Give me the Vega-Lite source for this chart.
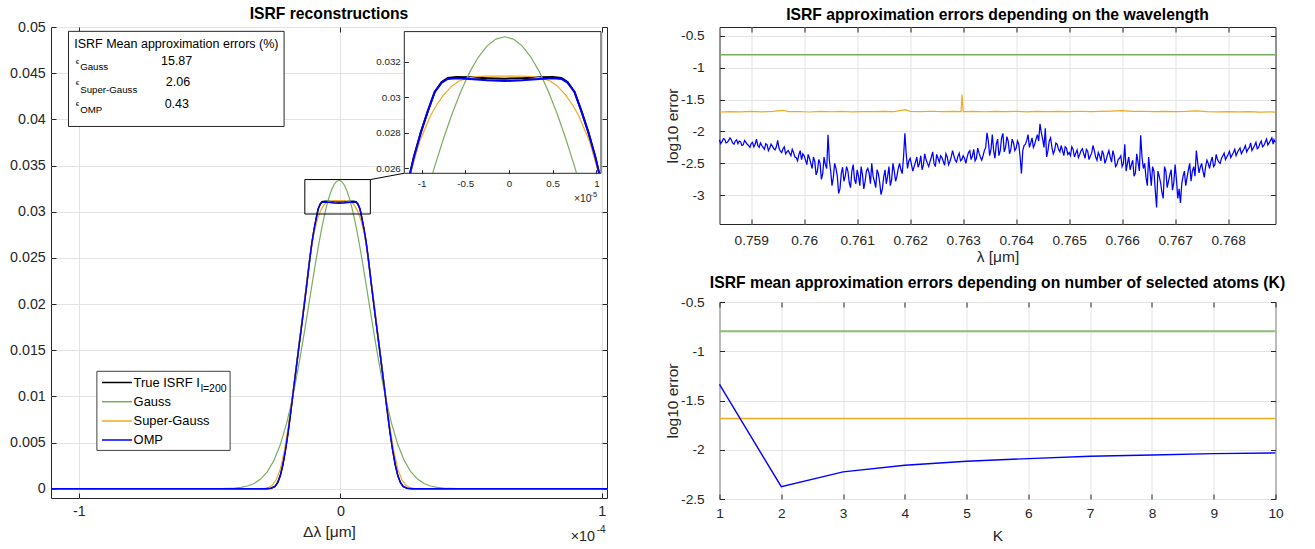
{
"$schema": "https://vega.github.io/schema/vega-lite/v6.json",
"background": "white",
"padding": {"left": 9, "top": 5, "right": 5, "bottom": 5},
"config": {
  "font": "Liberation Sans",
  "view": {"stroke": "#262626", "strokeWidth": 1},
  "axis": {"domain": false, "grid": true, "gridColor": "#e3e3e3", "gridWidth": 1, "tickColor": "#262626", "tickSize": -5, "labelColor": "#262626", "labelFont": "Liberation Sans", "titleColor": "#262626", "titleFont": "Liberation Sans", "titleFontWeight": "normal", "labelFontSize": 14.3, "titleFontSize": 15.5, "labelOverlap": false, "labelFlush": false},
  "title": {"font": "Liberation Sans", "fontSize": 15.7, "fontWeight": "bold", "color": "#000000", "offset": 6, "frame": "group", "anchor": "middle"}
},
"spacing": 53.5,
"hconcat": [
{
  "width": 556, "height": 471,
  "title": {"text": "ISRF reconstructions", "offset": -3},
  "data": {"values": [
    {"s":"True","x":-11.07,"y":0},{"s":"True","x":-2.85,"y":0},{"s":"True","x":-2.65,"y":0.00006},{"s":"True","x":-2.5,"y":0.00025},{"s":"True","x":-2.4,"y":0.00065},{"s":"True","x":-2.3,"y":0.0014},{"s":"True","x":-2.2,"y":0.0026},{"s":"True","x":-2.1,"y":0.0042},{"s":"True","x":-2.0,"y":0.0061},{"s":"True","x":-1.9,"y":0.0083},{"s":"True","x":-1.75,"y":0.0117},{"s":"True","x":-1.6,"y":0.0151},{"s":"True","x":-1.45,"y":0.0184},{"s":"True","x":-1.3,"y":0.0218},{"s":"True","x":-1.17,"y":0.0249},{"s":"True","x":-1.131,"y":0.02573},{"s":"True","x":-1.09,"y":0.0266},{"s":"True","x":-1.01,"y":0.028},{"s":"True","x":-0.93,"y":0.0292},{"s":"True","x":-0.85,"y":0.0303},{"s":"True","x":-0.77,"y":0.03085},{"s":"True","x":-0.7,"y":0.03108},{"s":"True","x":-0.6,"y":0.03113},{"s":"True","x":-0.45,"y":0.03112},{"s":"True","x":-0.25,"y":0.03107},{"s":"True","x":-0.05,"y":0.03104},{"s":"True","x":0.15,"y":0.03107},{"s":"True","x":0.35,"y":0.03112},{"s":"True","x":0.5,"y":0.03113},{"s":"True","x":0.6,"y":0.03108},{"s":"True","x":0.67,"y":0.03085},{"s":"True","x":0.75,"y":0.0303},{"s":"True","x":0.83,"y":0.0292},{"s":"True","x":0.91,"y":0.028},{"s":"True","x":0.99,"y":0.0266},{"s":"True","x":1.031,"y":0.02573},{"s":"True","x":1.07,"y":0.0249},{"s":"True","x":1.2,"y":0.0218},{"s":"True","x":1.35,"y":0.0184},{"s":"True","x":1.5,"y":0.0151},{"s":"True","x":1.65,"y":0.0117},{"s":"True","x":1.8,"y":0.0083},{"s":"True","x":1.9,"y":0.0061},{"s":"True","x":2.0,"y":0.0042},{"s":"True","x":2.1,"y":0.0026},{"s":"True","x":2.2,"y":0.0014},{"s":"True","x":2.3,"y":0.00065},{"s":"True","x":2.4,"y":0.00025},{"s":"True","x":2.55,"y":0.00006},{"s":"True","x":2.75,"y":0},{"s":"True","x":10.2,"y":0},
    {"s":"OMP","x":-11.07,"y":0},{"s":"OMP","x":-2.85,"y":0},{"s":"OMP","x":-2.65,"y":0.00006},{"s":"OMP","x":-2.5,"y":0.00025},{"s":"OMP","x":-2.4,"y":0.00065},{"s":"OMP","x":-2.3,"y":0.0014},{"s":"OMP","x":-2.2,"y":0.0026},{"s":"OMP","x":-2.1,"y":0.0042},{"s":"OMP","x":-2.0,"y":0.0061},{"s":"OMP","x":-1.9,"y":0.0083},{"s":"OMP","x":-1.75,"y":0.0117},{"s":"OMP","x":-1.6,"y":0.0151},{"s":"OMP","x":-1.45,"y":0.0184},{"s":"OMP","x":-1.3,"y":0.0218},{"s":"OMP","x":-1.17,"y":0.0249},{"s":"OMP","x":-1.131,"y":0.02573},{"s":"OMP","x":-1.09,"y":0.0266},{"s":"OMP","x":-1.01,"y":0.028},{"s":"OMP","x":-0.93,"y":0.0292},{"s":"OMP","x":-0.85,"y":0.0303},{"s":"OMP","x":-0.77,"y":0.03082},{"s":"OMP","x":-0.7,"y":0.03103},{"s":"OMP","x":-0.6,"y":0.03106},{"s":"OMP","x":-0.45,"y":0.03102},{"s":"OMP","x":-0.25,"y":0.03095},{"s":"OMP","x":-0.05,"y":0.03091},{"s":"OMP","x":0.15,"y":0.03095},{"s":"OMP","x":0.35,"y":0.03102},{"s":"OMP","x":0.5,"y":0.03106},{"s":"OMP","x":0.6,"y":0.03103},{"s":"OMP","x":0.67,"y":0.03082},{"s":"OMP","x":0.75,"y":0.0303},{"s":"OMP","x":0.83,"y":0.0292},{"s":"OMP","x":0.91,"y":0.028},{"s":"OMP","x":0.99,"y":0.0266},{"s":"OMP","x":1.031,"y":0.02573},{"s":"OMP","x":1.07,"y":0.0249},{"s":"OMP","x":1.2,"y":0.0218},{"s":"OMP","x":1.35,"y":0.0184},{"s":"OMP","x":1.5,"y":0.0151},{"s":"OMP","x":1.65,"y":0.0117},{"s":"OMP","x":1.8,"y":0.0083},{"s":"OMP","x":1.9,"y":0.0061},{"s":"OMP","x":2.0,"y":0.0042},{"s":"OMP","x":2.1,"y":0.0026},{"s":"OMP","x":2.2,"y":0.0014},{"s":"OMP","x":2.3,"y":0.00065},{"s":"OMP","x":2.4,"y":0.00025},{"s":"OMP","x":2.55,"y":0.00006},{"s":"OMP","x":2.75,"y":0},{"s":"OMP","x":10.2,"y":0},
    {"s":"Super-Gauss","x":-11.07,"y":0},{"s":"Super-Gauss","x":-3.15,"y":0},{"s":"Super-Gauss","x":-2.95,"y":0.00002},{"s":"Super-Gauss","x":-2.75,"y":0.00012},{"s":"Super-Gauss","x":-2.6,"y":0.0004},{"s":"Super-Gauss","x":-2.45,"y":0.001},{"s":"Super-Gauss","x":-2.3,"y":0.0021},{"s":"Super-Gauss","x":-2.15,"y":0.004},{"s":"Super-Gauss","x":-2.0,"y":0.0066},{"s":"Super-Gauss","x":-1.85,"y":0.0097},{"s":"Super-Gauss","x":-1.7,"y":0.013},{"s":"Super-Gauss","x":-1.55,"y":0.0164},{"s":"Super-Gauss","x":-1.4,"y":0.0199},{"s":"Super-Gauss","x":-1.25,"y":0.0232},{"s":"Super-Gauss","x":-1.126,"y":0.02573},{"s":"Super-Gauss","x":-1.02,"y":0.02754},{"s":"Super-Gauss","x":-0.9,"y":0.02894},{"s":"Super-Gauss","x":-0.83,"y":0.02955},{"s":"Super-Gauss","x":-0.75,"y":0.03012},{"s":"Super-Gauss","x":-0.65,"y":0.03065},{"s":"Super-Gauss","x":-0.57,"y":0.03091},{"s":"Super-Gauss","x":-0.47,"y":0.03108},{"s":"Super-Gauss","x":-0.37,"y":0.03116},{"s":"Super-Gauss","x":-0.25,"y":0.03119},{"s":"Super-Gauss","x":-0.05,"y":0.03119},{"s":"Super-Gauss","x":0.15,"y":0.03119},{"s":"Super-Gauss","x":0.27,"y":0.03116},{"s":"Super-Gauss","x":0.37,"y":0.03108},{"s":"Super-Gauss","x":0.47,"y":0.03091},{"s":"Super-Gauss","x":0.55,"y":0.03065},{"s":"Super-Gauss","x":0.65,"y":0.03012},{"s":"Super-Gauss","x":0.73,"y":0.02955},{"s":"Super-Gauss","x":0.8,"y":0.02894},{"s":"Super-Gauss","x":0.92,"y":0.02754},{"s":"Super-Gauss","x":1.026,"y":0.02573},{"s":"Super-Gauss","x":1.15,"y":0.0232},{"s":"Super-Gauss","x":1.3,"y":0.0199},{"s":"Super-Gauss","x":1.45,"y":0.0164},{"s":"Super-Gauss","x":1.6,"y":0.013},{"s":"Super-Gauss","x":1.75,"y":0.0097},{"s":"Super-Gauss","x":1.9,"y":0.0066},{"s":"Super-Gauss","x":2.05,"y":0.004},{"s":"Super-Gauss","x":2.2,"y":0.0021},{"s":"Super-Gauss","x":2.35,"y":0.001},{"s":"Super-Gauss","x":2.5,"y":0.0004},{"s":"Super-Gauss","x":2.65,"y":0.00012},{"s":"Super-Gauss","x":2.85,"y":0.00002},{"s":"Super-Gauss","x":3.05,"y":0},{"s":"Super-Gauss","x":10.2,"y":0},
    {"s":"Gauss","x":-11.07,"y":0},{"s":"Gauss","x":-5.05,"y":0},{"s":"Gauss","x":-4.55,"y":0.00001},{"s":"Gauss","x":-4.05,"y":0.00007},{"s":"Gauss","x":-3.8,"y":0.00015},{"s":"Gauss","x":-3.55,"y":0.0003},{"s":"Gauss","x":-3.3,"y":0.00057},{"s":"Gauss","x":-3.05,"y":0.00105},{"s":"Gauss","x":-2.8,"y":0.00182},{"s":"Gauss","x":-2.55,"y":0.00302},{"s":"Gauss","x":-2.3,"y":0.00476},{"s":"Gauss","x":-2.05,"y":0.00717},{"s":"Gauss","x":-1.85,"y":0.0096},{"s":"Gauss","x":-1.65,"y":0.01247},{"s":"Gauss","x":-1.45,"y":0.01571},{"s":"Gauss","x":-1.25,"y":0.01919},{"s":"Gauss","x":-1.05,"y":0.02273},{"s":"Gauss","x":-0.95,"y":0.02446},{"s":"Gauss","x":-0.873,"y":0.02573},{"s":"Gauss","x":-0.85,"y":0.02611},{"s":"Gauss","x":-0.75,"y":0.02766},{"s":"Gauss","x":-0.65,"y":0.02908},{"s":"Gauss","x":-0.55,"y":0.03034},{"s":"Gauss","x":-0.45,"y":0.03141},{"s":"Gauss","x":-0.35,"y":0.03226},{"s":"Gauss","x":-0.25,"y":0.03289},{"s":"Gauss","x":-0.15,"y":0.03327},{"s":"Gauss","x":-0.05,"y":0.0334},{"s":"Gauss","x":0.05,"y":0.03327},{"s":"Gauss","x":0.15,"y":0.03289},{"s":"Gauss","x":0.25,"y":0.03226},{"s":"Gauss","x":0.35,"y":0.03141},{"s":"Gauss","x":0.45,"y":0.03034},{"s":"Gauss","x":0.55,"y":0.02908},{"s":"Gauss","x":0.65,"y":0.02766},{"s":"Gauss","x":0.75,"y":0.02611},{"s":"Gauss","x":0.773,"y":0.02573},{"s":"Gauss","x":0.85,"y":0.02446},{"s":"Gauss","x":0.95,"y":0.02273},{"s":"Gauss","x":1.15,"y":0.01919},{"s":"Gauss","x":1.35,"y":0.01571},{"s":"Gauss","x":1.55,"y":0.01247},{"s":"Gauss","x":1.75,"y":0.0096},{"s":"Gauss","x":1.95,"y":0.00717},{"s":"Gauss","x":2.2,"y":0.00476},{"s":"Gauss","x":2.45,"y":0.00302},{"s":"Gauss","x":2.7,"y":0.00182},{"s":"Gauss","x":2.95,"y":0.00105},{"s":"Gauss","x":3.2,"y":0.00057},{"s":"Gauss","x":3.45,"y":0.0003},{"s":"Gauss","x":3.7,"y":0.00015},{"s":"Gauss","x":3.95,"y":0.00007},{"s":"Gauss","x":4.45,"y":0.00001},{"s":"Gauss","x":4.95,"y":0},{"s":"Gauss","x":10.2,"y":0}
  ]},
  "layer": [
    {"layer": [
      {"layer": [
        {"data": {"values": [{}]}, "mark": {"type": "rect", "fill": "white", "stroke": "#404040", "strokeWidth": 1},
         "encoding": {"x": {"datum": -9.315, "type": "quantitative", "scale": {"domain": [-11.07, 10.2], "nice": false, "zero": false}}, "x2": {"datum": -4.218}, "y": {"datum": 0.004154, "type": "quantitative", "scale": {"domain": [-0.001, 0.05], "nice": false, "zero": false}}, "y2": {"datum": 0.01272}}},
        {"transform": [{"filter": "datum.s === 'True'"}],
         "mark": {"type": "line", "strokeWidth": 1.5},
         "encoding": {
           "x": {"field": "x", "type": "quantitative",
                 "axis": {"values": [-10, 0, 10], "labelExpr": "toString(datum.value/10)", "title": "Δλ [μm]", "labelPadding": 11.8, "titlePadding": 5}},
           "y": {"field": "y", "type": "quantitative",
                 "axis": {"values": [0, 0.005, 0.01, 0.015, 0.02, 0.025, 0.03, 0.035, 0.04, 0.045, 0.05], "labelExpr": "toString(datum.value)", "title": null, "labelPadding": 10.7}},
           "color": {"field": "s", "type": "nominal",
                     "scale": {"domain": ["True", "Gauss", "Super-Gauss", "OMP"], "range": ["#000000", "#7aae5f", "#f0aa1e", "#0000ff"]},
                     "legend": {"orient": "none", "legendX": 46, "legendY": 344, "title": null, "symbolType": "stroke", "symbolSize": 900, "symbolStrokeWidth": 1.5, "labelFontSize": 12.9, "labelColor": "#000000", "labelFont": "Liberation Sans", "padding": 4, "strokeColor": null, "fillColor": null, "clipHeight": 15, "rowPadding": 4.2, "labelOffset": 0.6, "labelExpr": "datum.label === 'True' ? 'True ISRF I' : datum.label"}}
         }},
        {"transform": [{"filter": "datum.s === 'Gauss'"}], "mark": {"type": "line", "strokeWidth": 1.2},
         "encoding": {"x": {"field": "x", "type": "quantitative"}, "y": {"field": "y", "type": "quantitative"}, "color": {"field": "s", "type": "nominal"}}},
        {"transform": [{"filter": "datum.s === 'Super-Gauss'"}], "mark": {"type": "line", "strokeWidth": 1.2},
         "encoding": {"x": {"field": "x", "type": "quantitative"}, "y": {"field": "y", "type": "quantitative"}, "color": {"field": "s", "type": "nominal"}}},
        {"transform": [{"filter": "datum.s === 'OMP'"}], "mark": {"type": "line", "strokeWidth": 1.5},
         "encoding": {"x": {"field": "x", "type": "quantitative"}, "y": {"field": "y", "type": "quantitative"}, "color": {"field": "s", "type": "nominal"}}},
        {"data": {"values": [{}]}, "mark": {"type": "rect", "fillOpacity": 0, "stroke": "#000000", "strokeWidth": 1},
         "encoding": {"x": {"datum": -1.36, "type": "quantitative"}, "x2": {"datum": 1.147}, "y": {"datum": 0.02975, "type": "quantitative"}, "y2": {"datum": 0.03348}}},
        {"data": {"values": [{}]}, "mark": {"type": "rule", "color": "#000000", "strokeWidth": 1},
         "encoding": {"x": {"datum": 1.147, "type": "quantitative"}, "x2": {"datum": 2.436}, "y": {"datum": 0.03348, "type": "quantitative"}, "y2": {"datum": 0.03416}}},
        {"data": {"values": [{}]}, "mark": {"type": "rect", "fill": "white", "stroke": "#262626", "strokeWidth": 1},
         "encoding": {"x": {"datum": -10.4, "type": "quantitative"}, "x2": {"datum": -2.153}, "y": {"datum": 0.03923, "type": "quantitative"}, "y2": {"datum": 0.04953}}},
        {"data": {"values": [{"t": "ISRF Mean approximation errors (%)"}]}, "mark": {"type": "text", "align": "left", "baseline": "middle", "fontSize": 12.5, "color": "#000000"},
         "encoding": {"text": {"field": "t"}, "x": {"datum": -10.18, "type": "quantitative"}, "y": {"datum": 0.04816, "type": "quantitative"}}},
        {"data": {"values": [{"t": "ϵ"}]}, "mark": {"type": "text", "align": "left", "baseline": "middle", "fontSize": 8, "color": "#000000"},
         "encoding": {"text": {"field": "t"}, "x": {"datum": -10.12, "type": "quantitative"}, "y": {"datum": 0.04617, "type": "quantitative"}}},
        {"data": {"values": [{"t": "ϵ"}]}, "mark": {"type": "text", "align": "left", "baseline": "middle", "fontSize": 8, "color": "#000000"},
         "encoding": {"text": {"field": "t"}, "x": {"datum": -10.12, "type": "quantitative"}, "y": {"datum": 0.04389, "type": "quantitative"}}},
        {"data": {"values": [{"t": "ϵ"}]}, "mark": {"type": "text", "align": "left", "baseline": "middle", "fontSize": 8, "color": "#000000"},
         "encoding": {"text": {"field": "t"}, "x": {"datum": -10.12, "type": "quantitative"}, "y": {"datum": 0.04165, "type": "quantitative"}}},
        {"data": {"values": [{"t": "Gauss"}]}, "mark": {"type": "text", "align": "left", "baseline": "middle", "fontSize": 9.7, "color": "#000000"},
         "encoding": {"text": {"field": "t"}, "x": {"datum": -9.954, "type": "quantitative"}, "y": {"datum": 0.04563, "type": "quantitative"}}},
        {"data": {"values": [{"t": "Super-Gauss"}]}, "mark": {"type": "text", "align": "left", "baseline": "middle", "fontSize": 9.7, "color": "#000000"},
         "encoding": {"text": {"field": "t"}, "x": {"datum": -9.954, "type": "quantitative"}, "y": {"datum": 0.0432, "type": "quantitative"}}},
        {"data": {"values": [{"t": "OMP"}]}, "mark": {"type": "text", "align": "left", "baseline": "middle", "fontSize": 9.7, "color": "#000000"},
         "encoding": {"text": {"field": "t"}, "x": {"datum": -9.954, "type": "quantitative"}, "y": {"datum": 0.041, "type": "quantitative"}}},
        {"data": {"values": [{"t": "15.87"}]}, "mark": {"type": "text", "align": "center", "baseline": "middle", "fontSize": 12.5, "color": "#000000"},
         "encoding": {"text": {"field": "t"}, "x": {"datum": -6.264, "type": "quantitative"}, "y": {"datum": 0.04634, "type": "quantitative"}}},
        {"data": {"values": [{"t": "2.06"}]}, "mark": {"type": "text", "align": "center", "baseline": "middle", "fontSize": 12.5, "color": "#000000"},
         "encoding": {"text": {"field": "t"}, "x": {"datum": -6.214, "type": "quantitative"}, "y": {"datum": 0.04403, "type": "quantitative"}}},
        {"data": {"values": [{"t": "0.43"}]}, "mark": {"type": "text", "align": "center", "baseline": "middle", "fontSize": 12.5, "color": "#000000"},
         "encoding": {"text": {"field": "t"}, "x": {"datum": -6.256, "type": "quantitative"}, "y": {"datum": 0.04165, "type": "quantitative"}}},
        {"data": {"values": [{"t": "l=200"}]}, "mark": {"type": "text", "align": "left", "baseline": "middle", "fontSize": 10.5, "color": "#000000"},
         "encoding": {"text": {"field": "t"}, "x": {"datum": -5.346, "type": "quantitative"}, "y": {"datum": 0.01085, "type": "quantitative"}}},
        {"data": {"values": [{"t": "×10"}]}, "mark": {"type": "text", "align": "left", "baseline": "middle", "fontSize": 14.3, "color": "#262626"},
         "encoding": {"text": {"field": "t"}, "x": {"datum": 8.811, "type": "quantitative"}, "y": {"datum": -0.00517, "type": "quantitative"}}},
        {"data": {"values": [{"t": "-4"}]}, "mark": {"type": "text", "align": "left", "baseline": "middle", "fontSize": 10, "color": "#262626"},
         "encoding": {"text": {"field": "t"}, "x": {"datum": 9.805, "type": "quantitative"}, "y": {"datum": -0.00445, "type": "quantitative"}}},
        {"data": {"values": [{"t": "×10"}]}, "mark": {"type": "text", "align": "left", "baseline": "middle", "fontSize": 10.4, "color": "#262626"},
         "encoding": {"text": {"field": "t"}, "x": {"datum": 8.937, "type": "quantitative"}, "y": {"datum": 0.03142, "type": "quantitative"}}},
        {"data": {"values": [{"t": "-5"}]}, "mark": {"type": "text", "align": "left", "baseline": "middle", "fontSize": 7.5, "color": "#262626"},
         "encoding": {"text": {"field": "t"}, "x": {"datum": 9.572, "type": "quantitative"}, "y": {"datum": 0.03181, "type": "quantitative"}}}
      ]},
      {"transform": [{"filter": "datum.s === 'Gauss'"}], "mark": {"type": "line", "opacity": 0},
       "encoding": {
         "x": {"field": "x", "type": "quantitative", "axis": {"orient": "top", "labels": false, "grid": false, "title": null, "values": [-10, 0, 10]}},
         "y": {"field": "y", "type": "quantitative", "axis": {"orient": "right", "labels": false, "grid": false, "title": null, "values": [0, 0.005, 0.01, 0.015, 0.02, 0.025, 0.03, 0.035, 0.04, 0.045, 0.05]}}
       }}
    ],
    "resolve": {"axis": {"x": "independent", "y": "independent"}}},
    {"layer": [
      {"data": {"values": [{}]}, "mark": {"type": "rect", "fill": "white", "stroke": "#262626", "strokeWidth": 1},
       "encoding": {
         "x": {"datum": -1.198, "type": "quantitative", "scale": {"domain": [-1.198, 1.053], "range": [353.3, 550], "nice": false, "zero": false},
               "axis": {"orient": "bottom", "offset": -324.3, "values": [-1, -0.5, 0, 0.5, 1], "labelExpr": "toString(datum.value)", "grid": false, "title": null, "tickSize": -4, "labelFontSize": 9.8, "labelPadding": 9, "zindex": 1}},
         "x2": {"datum": 1.053},
         "y": {"datum": 0.02572, "type": "quantitative", "scale": {"domain": [0.02572, 0.03369], "range": [146.3, 4.6], "nice": false, "zero": false},
               "axis": {"orient": "left", "offset": -353.3, "values": [0.026, 0.028, 0.03, 0.032], "labelExpr": "toString(datum.value)", "grid": false, "title": null, "tickSize": -4, "labelFontSize": 9.8, "labelPadding": 8, "zindex": 1}},
         "y2": {"datum": 0.03369}
       }},
      {"transform": [{"filter": "datum.s === 'True' && datum.x >= -1.2 && datum.x <= 1.06 && datum.y >= 0.02572"}], "mark": {"type": "line", "strokeWidth": 2},
       "encoding": {"x": {"field": "x", "type": "quantitative"}, "y": {"field": "y", "type": "quantitative"}, "color": {"field": "s", "type": "nominal"}}},
      {"transform": [{"filter": "datum.s === 'Gauss' && datum.x >= -1.2 && datum.x <= 1.06 && datum.y >= 0.02572"}], "mark": {"type": "line", "strokeWidth": 1.2},
       "encoding": {"x": {"field": "x", "type": "quantitative"}, "y": {"field": "y", "type": "quantitative"}, "color": {"field": "s", "type": "nominal"}}},
      {"transform": [{"filter": "datum.s === 'Super-Gauss' && datum.x >= -1.2 && datum.x <= 1.06 && datum.y >= 0.02572"}], "mark": {"type": "line", "strokeWidth": 1.2},
       "encoding": {"x": {"field": "x", "type": "quantitative"}, "y": {"field": "y", "type": "quantitative"}, "color": {"field": "s", "type": "nominal"}}},
      {"transform": [{"filter": "datum.s === 'OMP' && datum.x >= -1.2 && datum.x <= 1.06 && datum.y >= 0.02572"}], "mark": {"type": "line", "strokeWidth": 2},
       "encoding": {"x": {"field": "x", "type": "quantitative"}, "y": {"field": "y", "type": "quantitative"}, "color": {"field": "s", "type": "nominal"}}}
    ]}
  ],
  "resolve": {"scale": {"x": "independent", "y": "independent"}, "axis": {"x": "independent", "y": "independent"}}
},
{
  "spacing": 8,
  "vconcat": [
  {
    "width": 556, "height": 197,
    "title": {"text": "ISRF approximation errors depending on the wavelength", "offset": 3.3},
    "data": {"values": [
      {"s":"Gauss","lam":0.7584,"e":-0.797},{"s":"Gauss","lam":0.76,"e":-0.799},{"s":"Gauss","lam":0.762,"e":-0.798},{"s":"Gauss","lam":0.764,"e":-0.799},{"s":"Gauss","lam":0.766,"e":-0.797},{"s":"Gauss","lam":0.768,"e":-0.799},{"s":"Gauss","lam":0.76889,"e":-0.798},
      {"s":"Super-Gauss","lam":0.7584,"e":-1.695},{"s":"Super-Gauss","lam":0.7586,"e":-1.688},{"s":"Super-Gauss","lam":0.7588,"e":-1.693},{"s":"Super-Gauss","lam":0.759,"e":-1.686},{"s":"Super-Gauss","lam":0.7592,"e":-1.694},{"s":"Super-Gauss","lam":0.7594,"e":-1.684},{"s":"Super-Gauss","lam":0.7596,"e":-1.668},{"s":"Super-Gauss","lam":0.7597,"e":-1.69},{"s":"Super-Gauss","lam":0.7599,"e":-1.687},{"s":"Super-Gauss","lam":0.7601,"e":-1.695},{"s":"Super-Gauss","lam":0.7603,"e":-1.684},{"s":"Super-Gauss","lam":0.7605,"e":-1.691},{"s":"Super-Gauss","lam":0.7607,"e":-1.686},{"s":"Super-Gauss","lam":0.7609,"e":-1.693},{"s":"Super-Gauss","lam":0.7611,"e":-1.688},{"s":"Super-Gauss","lam":0.7613,"e":-1.69},{"s":"Super-Gauss","lam":0.7615,"e":-1.685},{"s":"Super-Gauss","lam":0.7617,"e":-1.689},{"s":"Super-Gauss","lam":0.7619,"e":-1.658},{"s":"Super-Gauss","lam":0.762,"e":-1.686},{"s":"Super-Gauss","lam":0.7622,"e":-1.69},{"s":"Super-Gauss","lam":0.7624,"e":-1.683},{"s":"Super-Gauss","lam":0.7626,"e":-1.69},{"s":"Super-Gauss","lam":0.7628,"e":-1.686},{"s":"Super-Gauss","lam":0.76296,"e":-1.689},{"s":"Super-Gauss","lam":0.76298,"e":-1.42},{"s":"Super-Gauss","lam":0.763,"e":-1.69},{"s":"Super-Gauss","lam":0.7632,"e":-1.686},{"s":"Super-Gauss","lam":0.7634,"e":-1.691},{"s":"Super-Gauss","lam":0.7636,"e":-1.684},{"s":"Super-Gauss","lam":0.7638,"e":-1.69},{"s":"Super-Gauss","lam":0.764,"e":-1.686},{"s":"Super-Gauss","lam":0.7642,"e":-1.692},{"s":"Super-Gauss","lam":0.7644,"e":-1.685},{"s":"Super-Gauss","lam":0.7646,"e":-1.69},{"s":"Super-Gauss","lam":0.7648,"e":-1.684},{"s":"Super-Gauss","lam":0.765,"e":-1.689},{"s":"Super-Gauss","lam":0.7652,"e":-1.683},{"s":"Super-Gauss","lam":0.7654,"e":-1.688},{"s":"Super-Gauss","lam":0.7656,"e":-1.684},{"s":"Super-Gauss","lam":0.7658,"e":-1.68},{"s":"Super-Gauss","lam":0.766,"e":-1.674},{"s":"Super-Gauss","lam":0.7662,"e":-1.686},{"s":"Super-Gauss","lam":0.7664,"e":-1.683},{"s":"Super-Gauss","lam":0.7666,"e":-1.688},{"s":"Super-Gauss","lam":0.7668,"e":-1.684},{"s":"Super-Gauss","lam":0.767,"e":-1.689},{"s":"Super-Gauss","lam":0.7672,"e":-1.685},{"s":"Super-Gauss","lam":0.7674,"e":-1.676},{"s":"Super-Gauss","lam":0.7676,"e":-1.688},{"s":"Super-Gauss","lam":0.7678,"e":-1.692},{"s":"Super-Gauss","lam":0.768,"e":-1.689},{"s":"Super-Gauss","lam":0.7682,"e":-1.694},{"s":"Super-Gauss","lam":0.7684,"e":-1.69},{"s":"Super-Gauss","lam":0.7686,"e":-1.696},{"s":"Super-Gauss","lam":0.7688,"e":-1.693},{"s":"Super-Gauss","lam":0.76889,"e":-1.698},
      {"s":"OMP","lam":0.7584,"e":-2.13},{"s":"OMP","lam":0.75845,"e":-2.16},{"s":"OMP","lam":0.7585,"e":-2.12},{"s":"OMP","lam":0.75855,"e":-2.17},{"s":"OMP","lam":0.7586,"e":-2.1},{"s":"OMP","lam":0.75865,"e":-2.18},{"s":"OMP","lam":0.7587,"e":-2.15},{"s":"OMP","lam":0.75875,"e":-2.19},{"s":"OMP","lam":0.7588,"e":-2.16},{"s":"OMP","lam":0.75885,"e":-2.21},{"s":"OMP","lam":0.7589,"e":-2.17},{"s":"OMP","lam":0.75895,"e":-2.22},{"s":"OMP","lam":0.759,"e":-2.19},{"s":"OMP","lam":0.75905,"e":-2.24},{"s":"OMP","lam":0.7591,"e":-2.12},{"s":"OMP","lam":0.75915,"e":-2.25},{"s":"OMP","lam":0.7592,"e":-2.22},{"s":"OMP","lam":0.75925,"e":-2.28},{"s":"OMP","lam":0.7593,"e":-2.21},{"s":"OMP","lam":0.75935,"e":-2.26},{"s":"OMP","lam":0.7594,"e":-2.23},{"s":"OMP","lam":0.75945,"e":-2.29},{"s":"OMP","lam":0.7595,"e":-2.14},{"s":"OMP","lam":0.75955,"e":-2.31},{"s":"OMP","lam":0.7596,"e":-2.27},{"s":"OMP","lam":0.75965,"e":-2.35},{"s":"OMP","lam":0.7597,"e":-2.3},{"s":"OMP","lam":0.75975,"e":-2.38},{"s":"OMP","lam":0.7598,"e":-2.33},{"s":"OMP","lam":0.75985,"e":-2.41},{"s":"OMP","lam":0.7599,"e":-2.36},{"s":"OMP","lam":0.75995,"e":-2.44},{"s":"OMP","lam":0.76,"e":-2.38},{"s":"OMP","lam":0.76005,"e":-2.52},{"s":"OMP","lam":0.7601,"e":-2.42},{"s":"OMP","lam":0.76015,"e":-2.58},{"s":"OMP","lam":0.7602,"e":-2.47},{"s":"OMP","lam":0.76025,"e":-2.62},{"s":"OMP","lam":0.7603,"e":-2.5},{"s":"OMP","lam":0.76035,"e":-2.66},{"s":"OMP","lam":0.7604,"e":-2.52},{"s":"OMP","lam":0.76045,"e":-2.05},{"s":"OMP","lam":0.7605,"e":-2.62},{"s":"OMP","lam":0.76055,"e":-2.72},{"s":"OMP","lam":0.7606,"e":-2.58},{"s":"OMP","lam":0.76065,"e":-2.97},{"s":"OMP","lam":0.7607,"e":-2.66},{"s":"OMP","lam":0.76075,"e":-2.78},{"s":"OMP","lam":0.7608,"e":-2.55},{"s":"OMP","lam":0.76085,"e":-2.8},{"s":"OMP","lam":0.7609,"e":-2.62},{"s":"OMP","lam":0.76095,"e":-2.75},{"s":"OMP","lam":0.761,"e":-2.6},{"s":"OMP","lam":0.76105,"e":-2.85},{"s":"OMP","lam":0.7611,"e":-2.68},{"s":"OMP","lam":0.76115,"e":-2.78},{"s":"OMP","lam":0.7612,"e":-2.58},{"s":"OMP","lam":0.76125,"e":-2.82},{"s":"OMP","lam":0.7613,"e":-2.7},{"s":"OMP","lam":0.76135,"e":-2.88},{"s":"OMP","lam":0.7614,"e":-2.66},{"s":"OMP","lam":0.76145,"e":-2.99},{"s":"OMP","lam":0.7615,"e":-2.72},{"s":"OMP","lam":0.76155,"e":-2.82},{"s":"OMP","lam":0.7616,"e":-2.55},{"s":"OMP","lam":0.76165,"e":-2.76},{"s":"OMP","lam":0.7617,"e":-2.62},{"s":"OMP","lam":0.76175,"e":-2.7},{"s":"OMP","lam":0.7618,"e":-2.5},{"s":"OMP","lam":0.76185,"e":-2.66},{"s":"OMP","lam":0.7619,"e":-2.03},{"s":"OMP","lam":0.76195,"e":-2.58},{"s":"OMP","lam":0.762,"e":-2.42},{"s":"OMP","lam":0.76205,"e":-2.62},{"s":"OMP","lam":0.7621,"e":-2.48},{"s":"OMP","lam":0.76215,"e":-2.56},{"s":"OMP","lam":0.7622,"e":-2.38},{"s":"OMP","lam":0.76225,"e":-2.52},{"s":"OMP","lam":0.7623,"e":-2.44},{"s":"OMP","lam":0.76235,"e":-2.55},{"s":"OMP","lam":0.7624,"e":-2.4},{"s":"OMP","lam":0.76245,"e":-2.5},{"s":"OMP","lam":0.7625,"e":-2.36},{"s":"OMP","lam":0.76255,"e":-2.48},{"s":"OMP","lam":0.7626,"e":-2.41},{"s":"OMP","lam":0.76265,"e":-2.53},{"s":"OMP","lam":0.7627,"e":-2.4},{"s":"OMP","lam":0.76275,"e":-2.47},{"s":"OMP","lam":0.7628,"e":-2.3},{"s":"OMP","lam":0.76285,"e":-2.45},{"s":"OMP","lam":0.7629,"e":-2.39},{"s":"OMP","lam":0.76295,"e":-2.46},{"s":"OMP","lam":0.763,"e":-2.38},{"s":"OMP","lam":0.76305,"e":-2.5},{"s":"OMP","lam":0.7631,"e":-2.33},{"s":"OMP","lam":0.76315,"e":-2.44},{"s":"OMP","lam":0.7632,"e":-2.28},{"s":"OMP","lam":0.76325,"e":-2.42},{"s":"OMP","lam":0.7633,"e":-2.34},{"s":"OMP","lam":0.76335,"e":-2.45},{"s":"OMP","lam":0.7634,"e":-2.3},{"s":"OMP","lam":0.76345,"e":-2.02},{"s":"OMP","lam":0.7635,"e":-2.38},{"s":"OMP","lam":0.76355,"e":-2.05},{"s":"OMP","lam":0.7636,"e":-2.42},{"s":"OMP","lam":0.76365,"e":-2.12},{"s":"OMP","lam":0.7637,"e":-2.3},{"s":"OMP","lam":0.76375,"e":-2.03},{"s":"OMP","lam":0.7638,"e":-2.25},{"s":"OMP","lam":0.76385,"e":-2.15},{"s":"OMP","lam":0.7639,"e":-2.28},{"s":"OMP","lam":0.76395,"e":-2.18},{"s":"OMP","lam":0.764,"e":-2.26},{"s":"OMP","lam":0.76405,"e":-2.2},{"s":"OMP","lam":0.7641,"e":-2.66},{"s":"OMP","lam":0.76415,"e":-2.22},{"s":"OMP","lam":0.7642,"e":-2.14},{"s":"OMP","lam":0.76425,"e":-2.25},{"s":"OMP","lam":0.7643,"e":-2.1},{"s":"OMP","lam":0.76435,"e":-2.2},{"s":"OMP","lam":0.7644,"e":-2.05},{"s":"OMP","lam":0.76445,"e":-1.88},{"s":"OMP","lam":0.7645,"e":-2.12},{"s":"OMP","lam":0.76455,"e":-1.95},{"s":"OMP","lam":0.7646,"e":-2.3},{"s":"OMP","lam":0.76465,"e":-2.1},{"s":"OMP","lam":0.7647,"e":-2.35},{"s":"OMP","lam":0.76475,"e":-2.18},{"s":"OMP","lam":0.7648,"e":-2.28},{"s":"OMP","lam":0.76485,"e":-2.22},{"s":"OMP","lam":0.7649,"e":-2.38},{"s":"OMP","lam":0.76495,"e":-2.26},{"s":"OMP","lam":0.765,"e":-2.33},{"s":"OMP","lam":0.76505,"e":-2.24},{"s":"OMP","lam":0.7651,"e":-2.4},{"s":"OMP","lam":0.76515,"e":-2.29},{"s":"OMP","lam":0.7652,"e":-2.36},{"s":"OMP","lam":0.76525,"e":-2.27},{"s":"OMP","lam":0.7653,"e":-2.42},{"s":"OMP","lam":0.76535,"e":-2.31},{"s":"OMP","lam":0.7654,"e":-2.38},{"s":"OMP","lam":0.76545,"e":-2.22},{"s":"OMP","lam":0.7655,"e":-2.4},{"s":"OMP","lam":0.76555,"e":-2.33},{"s":"OMP","lam":0.7656,"e":-2.46},{"s":"OMP","lam":0.76565,"e":-2.36},{"s":"OMP","lam":0.7657,"e":-2.44},{"s":"OMP","lam":0.76575,"e":-2.3},{"s":"OMP","lam":0.7658,"e":-2.48},{"s":"OMP","lam":0.76585,"e":-2.38},{"s":"OMP","lam":0.7659,"e":-2.52},{"s":"OMP","lam":0.76595,"e":-2.42},{"s":"OMP","lam":0.766,"e":-2.55},{"s":"OMP","lam":0.76605,"e":-2.2},{"s":"OMP","lam":0.7661,"e":-2.5},{"s":"OMP","lam":0.76615,"e":-2.6},{"s":"OMP","lam":0.7662,"e":-2.45},{"s":"OMP","lam":0.76625,"e":-2.65},{"s":"OMP","lam":0.7663,"e":-2.48},{"s":"OMP","lam":0.76635,"e":-2.06},{"s":"OMP","lam":0.7664,"e":-2.58},{"s":"OMP","lam":0.76645,"e":-2.72},{"s":"OMP","lam":0.7665,"e":-2.4},{"s":"OMP","lam":0.76655,"e":-2.85},{"s":"OMP","lam":0.7666,"e":-2.62},{"s":"OMP","lam":0.76665,"e":-3.19},{"s":"OMP","lam":0.7667,"e":-2.7},{"s":"OMP","lam":0.76675,"e":-2.95},{"s":"OMP","lam":0.7668,"e":-2.55},{"s":"OMP","lam":0.76685,"e":-2.88},{"s":"OMP","lam":0.7669,"e":-2.68},{"s":"OMP","lam":0.76695,"e":-2.92},{"s":"OMP","lam":0.767,"e":-2.52},{"s":"OMP","lam":0.76705,"e":-3.05},{"s":"OMP","lam":0.7671,"e":-3.12},{"s":"OMP","lam":0.76715,"e":-2.7},{"s":"OMP","lam":0.7672,"e":-2.85},{"s":"OMP","lam":0.76725,"e":-2.6},{"s":"OMP","lam":0.7673,"e":-2.78},{"s":"OMP","lam":0.76735,"e":-2.55},{"s":"OMP","lam":0.7674,"e":-2.3},{"s":"OMP","lam":0.76745,"e":-2.65},{"s":"OMP","lam":0.7675,"e":-2.5},{"s":"OMP","lam":0.76755,"e":-2.72},{"s":"OMP","lam":0.7676,"e":-2.45},{"s":"OMP","lam":0.76765,"e":-2.58},{"s":"OMP","lam":0.7677,"e":-2.4},{"s":"OMP","lam":0.76775,"e":-2.52},{"s":"OMP","lam":0.7678,"e":-2.44},{"s":"OMP","lam":0.76785,"e":-2.5},{"s":"OMP","lam":0.7679,"e":-2.38},{"s":"OMP","lam":0.76795,"e":-2.44},{"s":"OMP","lam":0.768,"e":-2.36},{"s":"OMP","lam":0.76805,"e":-2.41},{"s":"OMP","lam":0.7681,"e":-2.33},{"s":"OMP","lam":0.76815,"e":-2.38},{"s":"OMP","lam":0.7682,"e":-2.29},{"s":"OMP","lam":0.76825,"e":-2.35},{"s":"OMP","lam":0.7683,"e":-2.27},{"s":"OMP","lam":0.76835,"e":-2.32},{"s":"OMP","lam":0.7684,"e":-2.25},{"s":"OMP","lam":0.76845,"e":-2.3},{"s":"OMP","lam":0.7685,"e":-2.22},{"s":"OMP","lam":0.76855,"e":-2.27},{"s":"OMP","lam":0.7686,"e":-2.19},{"s":"OMP","lam":0.76865,"e":-2.24},{"s":"OMP","lam":0.7687,"e":-2.17},{"s":"OMP","lam":0.76875,"e":-2.21},{"s":"OMP","lam":0.7688,"e":-2.14},{"s":"OMP","lam":0.76885,"e":-2.2},{"s":"OMP","lam":0.76889,"e":-2.17},
      {"s":"OMP","lam":0.758425,"e":-2.19},{"s":"OMP","lam":0.758475,"e":-2.11},{"s":"OMP","lam":0.758525,"e":-2.18},{"s":"OMP","lam":0.758575,"e":-2.14},{"s":"OMP","lam":0.758625,"e":-2.13},{"s":"OMP","lam":0.758675,"e":-2.2},{"s":"OMP","lam":0.758725,"e":-2.13},{"s":"OMP","lam":0.758775,"e":-2.15},{"s":"OMP","lam":0.758825,"e":-2.22},{"s":"OMP","lam":0.758875,"e":-2.14},{"s":"OMP","lam":0.758925,"e":-2.2},{"s":"OMP","lam":0.758975,"e":-2.25},{"s":"OMP","lam":0.759025,"e":-2.17},{"s":"OMP","lam":0.759075,"e":-2.2},{"s":"OMP","lam":0.759125,"e":-2.22},{"s":"OMP","lam":0.759175,"e":-2.18},{"s":"OMP","lam":0.759225,"e":-2.25},{"s":"OMP","lam":0.759275,"e":-2.19},{"s":"OMP","lam":0.759325,"e":-2.3},{"s":"OMP","lam":0.759375,"e":-2.2},{"s":"OMP","lam":0.759425,"e":-2.27},{"s":"OMP","lam":0.759475,"e":-2.24},{"s":"OMP","lam":0.759525,"e":-2.26},{"s":"OMP","lam":0.759575,"e":-2.33},{"s":"OMP","lam":0.759625,"e":-2.24},{"s":"OMP","lam":0.759675,"e":-2.32},{"s":"OMP","lam":0.759725,"e":-2.34},{"s":"OMP","lam":0.759775,"e":-2.28},{"s":"OMP","lam":0.759825,"e":-2.4},{"s":"OMP","lam":0.759875,"e":-2.46},{"s":"OMP","lam":0.759925,"e":-2.3},{"s":"OMP","lam":0.759975,"e":-2.35},{"s":"OMP","lam":0.760025,"e":-2.45},{"s":"OMP","lam":0.760075,"e":-2.36},{"s":"OMP","lam":0.760125,"e":-2.5},{"s":"OMP","lam":0.760175,"e":-2.4},{"s":"OMP","lam":0.760225,"e":-2.68},{"s":"OMP","lam":0.760275,"e":-2.44},{"s":"OMP","lam":0.760325,"e":-2.75},{"s":"OMP","lam":0.760375,"e":-2.4},{"s":"OMP","lam":0.760425,"e":-2.58},{"s":"OMP","lam":0.760475,"e":-2.45},{"s":"OMP","lam":0.760525,"e":-2.85},{"s":"OMP","lam":0.760575,"e":-2.5},{"s":"OMP","lam":0.760625,"e":-2.7},{"s":"OMP","lam":0.760675,"e":-2.9},{"s":"OMP","lam":0.760725,"e":-2.56},{"s":"OMP","lam":0.760775,"e":-2.7},{"s":"OMP","lam":0.760825,"e":-2.62},{"s":"OMP","lam":0.760875,"e":-2.88},{"s":"OMP","lam":0.760925,"e":-2.52},{"s":"OMP","lam":0.760975,"e":-2.82},{"s":"OMP","lam":0.761025,"e":-2.7},{"s":"OMP","lam":0.761075,"e":-2.55},{"s":"OMP","lam":0.761125,"e":-2.9},{"s":"OMP","lam":0.761175,"e":-2.62},{"s":"OMP","lam":0.761225,"e":-2.65},{"s":"OMP","lam":0.761275,"e":-2.5},{"s":"OMP","lam":0.761325,"e":-2.78},{"s":"OMP","lam":0.761375,"e":-2.6},{"s":"OMP","lam":0.761425,"e":-2.8},{"s":"OMP","lam":0.761475,"e":-2.9},{"s":"OMP","lam":0.761525,"e":-2.6},{"s":"OMP","lam":0.761575,"e":-2.7},{"s":"OMP","lam":0.761625,"e":-2.85},{"s":"OMP","lam":0.761675,"e":-2.5},{"s":"OMP","lam":0.761725,"e":-2.78},{"s":"OMP","lam":0.761775,"e":-2.58},{"s":"OMP","lam":0.761825,"e":-2.6},{"s":"OMP","lam":0.761875,"e":-2.4},{"s":"OMP","lam":0.761925,"e":-2.35},{"s":"OMP","lam":0.761975,"e":-2.46},{"s":"OMP","lam":0.762025,"e":-2.52},{"s":"OMP","lam":0.762075,"e":-2.55},{"s":"OMP","lam":0.762125,"e":-2.4},{"s":"OMP","lam":0.762175,"e":-2.5},{"s":"OMP","lam":0.762225,"e":-2.6},{"s":"OMP","lam":0.762275,"e":-2.35},{"s":"OMP","lam":0.762325,"e":-2.5},{"s":"OMP","lam":0.762375,"e":-2.47},{"s":"OMP","lam":0.762425,"e":-2.32},{"s":"OMP","lam":0.762475,"e":-2.55},{"s":"OMP","lam":0.762525,"e":-2.42},{"s":"OMP","lam":0.762575,"e":-2.38},{"s":"OMP","lam":0.762625,"e":-2.47},{"s":"OMP","lam":0.762675,"e":-2.35},{"s":"OMP","lam":0.762725,"e":-2.52},{"s":"OMP","lam":0.762775,"e":-2.4},{"s":"OMP","lam":0.762825,"e":-2.38},{"s":"OMP","lam":0.762875,"e":-2.48},{"s":"OMP","lam":0.762925,"e":-2.34},{"s":"OMP","lam":0.762975,"e":-2.44},{"s":"OMP","lam":0.763025,"e":-2.42},{"s":"OMP","lam":0.763075,"e":-2.4},{"s":"OMP","lam":0.763125,"e":-2.3},{"s":"OMP","lam":0.763175,"e":-2.38},{"s":"OMP","lam":0.763225,"e":-2.46},{"s":"OMP","lam":0.763275,"e":-2.26},{"s":"OMP","lam":0.763325,"e":-2.4},{"s":"OMP","lam":0.763375,"e":-2.38},{"s":"OMP","lam":0.763425,"e":-2.25},{"s":"OMP","lam":0.763475,"e":-2.15},{"s":"OMP","lam":0.763525,"e":-2.28},{"s":"OMP","lam":0.763575,"e":-2.3},{"s":"OMP","lam":0.763625,"e":-2.2},{"s":"OMP","lam":0.763675,"e":-2.38},{"s":"OMP","lam":0.763725,"e":-2.1},{"s":"OMP","lam":0.763775,"e":-2.32},{"s":"OMP","lam":0.763825,"e":-2.08},{"s":"OMP","lam":0.763875,"e":-2.35},{"s":"OMP","lam":0.763925,"e":-2.12},{"s":"OMP","lam":0.763975,"e":-2.3},{"s":"OMP","lam":0.764025,"e":-2.15},{"s":"OMP","lam":0.764075,"e":-2.4},{"s":"OMP","lam":0.764125,"e":-2.3},{"s":"OMP","lam":0.764175,"e":-2.2},{"s":"OMP","lam":0.764225,"e":-2.05},{"s":"OMP","lam":0.764275,"e":-2.18},{"s":"OMP","lam":0.764325,"e":-2.25},{"s":"OMP","lam":0.764375,"e":-2.12},{"s":"OMP","lam":0.764425,"e":-2.15},{"s":"OMP","lam":0.764475,"e":-2.02},{"s":"OMP","lam":0.764525,"e":-2.25},{"s":"OMP","lam":0.764575,"e":-2.4},{"s":"OMP","lam":0.764625,"e":-2.15},{"s":"OMP","lam":0.764675,"e":-2.25},{"s":"OMP","lam":0.764725,"e":-2.3},{"s":"OMP","lam":0.764775,"e":-2.2},{"s":"OMP","lam":0.764825,"e":-2.32},{"s":"OMP","lam":0.764875,"e":-2.3},{"s":"OMP","lam":0.764925,"e":-2.24},{"s":"OMP","lam":0.764975,"e":-2.36},{"s":"OMP","lam":0.765025,"e":-2.38},{"s":"OMP","lam":0.765075,"e":-2.28},{"s":"OMP","lam":0.765125,"e":-2.34},{"s":"OMP","lam":0.765175,"e":-2.41},{"s":"OMP","lam":0.765225,"e":-2.3},{"s":"OMP","lam":0.765275,"e":-2.35},{"s":"OMP","lam":0.765325,"e":-2.28},{"s":"OMP","lam":0.765375,"e":-2.44},{"s":"OMP","lam":0.765425,"e":-2.34},{"s":"OMP","lam":0.765475,"e":-2.3},{"s":"OMP","lam":0.765525,"e":-2.45},{"s":"OMP","lam":0.765575,"e":-2.38},{"s":"OMP","lam":0.765625,"e":-2.3},{"s":"OMP","lam":0.765675,"e":-2.5},{"s":"OMP","lam":0.765725,"e":-2.36},{"s":"OMP","lam":0.765775,"e":-2.4},{"s":"OMP","lam":0.765825,"e":-2.3},{"s":"OMP","lam":0.765875,"e":-2.55},{"s":"OMP","lam":0.765925,"e":-2.44},{"s":"OMP","lam":0.765975,"e":-2.38},{"s":"OMP","lam":0.766025,"e":-2.5},{"s":"OMP","lam":0.766075,"e":-2.62},{"s":"OMP","lam":0.766125,"e":-2.4},{"s":"OMP","lam":0.766175,"e":-2.52},{"s":"OMP","lam":0.766225,"e":-2.7},{"s":"OMP","lam":0.766275,"e":-2.35},{"s":"OMP","lam":0.766325,"e":-2.62},{"s":"OMP","lam":0.766375,"e":-2.4},{"s":"OMP","lam":0.766425,"e":-2.5},{"s":"OMP","lam":0.766475,"e":-2.85},{"s":"OMP","lam":0.766525,"e":-2.62},{"s":"OMP","lam":0.766575,"e":-2.55},{"s":"OMP","lam":0.766625,"e":-2.92},{"s":"OMP","lam":0.766675,"e":-2.62},{"s":"OMP","lam":0.766725,"e":-2.8},{"s":"OMP","lam":0.766775,"e":-3.05},{"s":"OMP","lam":0.766825,"e":-2.62},{"s":"OMP","lam":0.766875,"e":-2.78},{"s":"OMP","lam":0.766925,"e":-2.6},{"s":"OMP","lam":0.766975,"e":-2.8},{"s":"OMP","lam":0.767025,"e":-2.75},{"s":"OMP","lam":0.767075,"e":-2.9},{"s":"OMP","lam":0.767125,"e":-2.82},{"s":"OMP","lam":0.767175,"e":-2.62},{"s":"OMP","lam":0.767225,"e":-2.72},{"s":"OMP","lam":0.767275,"e":-2.5},{"s":"OMP","lam":0.767325,"e":-2.62},{"s":"OMP","lam":0.767375,"e":-2.7},{"s":"OMP","lam":0.767425,"e":-2.48},{"s":"OMP","lam":0.767475,"e":-2.56},{"s":"OMP","lam":0.767525,"e":-2.62},{"s":"OMP","lam":0.767575,"e":-2.55},{"s":"OMP","lam":0.767625,"e":-2.5},{"s":"OMP","lam":0.767675,"e":-2.47},{"s":"OMP","lam":0.767725,"e":-2.55},{"s":"OMP","lam":0.767775,"e":-2.36},{"s":"OMP","lam":0.767825,"e":-2.48},{"s":"OMP","lam":0.767875,"e":-2.42},{"s":"OMP","lam":0.767925,"e":-2.34},{"s":"OMP","lam":0.767975,"e":-2.4},{"s":"OMP","lam":0.768025,"e":-2.31},{"s":"OMP","lam":0.768075,"e":-2.37},{"s":"OMP","lam":0.768125,"e":-2.28},{"s":"OMP","lam":0.768175,"e":-2.33},{"s":"OMP","lam":0.768225,"e":-2.26},{"s":"OMP","lam":0.768275,"e":-2.31},{"s":"OMP","lam":0.768325,"e":-2.22},{"s":"OMP","lam":0.768375,"e":-2.28},{"s":"OMP","lam":0.768425,"e":-2.18},{"s":"OMP","lam":0.768475,"e":-2.26},{"s":"OMP","lam":0.768525,"e":-2.17},{"s":"OMP","lam":0.768575,"e":-2.25},{"s":"OMP","lam":0.768625,"e":-2.15},{"s":"OMP","lam":0.768675,"e":-2.22},{"s":"OMP","lam":0.768725,"e":-2.12},{"s":"OMP","lam":0.768775,"e":-2.18},{"s":"OMP","lam":0.768825,"e":-2.1},{"s":"OMP","lam":0.768865,"e":-2.13}
    ]},
    "layer": [
      {"encoding": {
        "x": {"field": "lam", "type": "quantitative", "scale": {"domain": [0.758402, 0.768894], "nice": false, "zero": false},
              "axis": {"values": [0.759, 0.76, 0.761, 0.762, 0.763, 0.764, 0.765, 0.766, 0.767, 0.768], "labelExpr": "toString(datum.value)", "title": "λ [μm]", "labelFontSize": 13.7, "labelPadding": 14.5, "titlePadding": 2.3}},
        "y": {"field": "e", "type": "quantitative", "scale": {"domain": [-3.45, -0.363], "nice": false, "zero": false},
              "axis": {"values": [-3, -2.5, -2, -1.5, -1, -0.5], "labelExpr": "toString(datum.value)", "title": "log10 error", "labelFontSize": 13.7, "labelPadding": 20.3, "minExtent": 39, "maxExtent": 39, "titlePadding": 0}}
       },
       "layer": [
        {"transform": [{"filter": "datum.s === 'Gauss'"}], "mark": {"type": "line", "strokeWidth": 1.6, "color": "#7aae5f"}},
        {"transform": [{"filter": "datum.s === 'Super-Gauss'"}], "mark": {"type": "line", "strokeWidth": 1.2, "color": "#f0aa1e"}},
        {"transform": [{"filter": "datum.s === 'OMP'"}], "mark": {"type": "line", "strokeWidth": 1.25, "color": "#0000ff"}}
       ]},
      {"transform": [{"filter": "datum.s === 'Gauss'"}], "mark": {"type": "line", "opacity": 0},
       "encoding": {
         "x": {"field": "lam", "type": "quantitative", "axis": {"orient": "top", "labels": false, "grid": false, "title": null, "values": [0.759, 0.76, 0.761, 0.762, 0.763, 0.764, 0.765, 0.766, 0.767, 0.768]}},
         "y": {"field": "e", "type": "quantitative", "axis": {"orient": "right", "labels": false, "grid": false, "title": null, "values": [-3, -2.5, -2, -1.5, -1, -0.5]}}
       }}
    ],
    "resolve": {"axis": {"x": "independent", "y": "independent"}}
  },
  {
    "width": 556, "height": 197,
    "title": {"text": "ISRF mean approximation errors depending on number of selected atoms (K)", "offset": 3.3},
    "data": {"values": [
      {"s":"Gauss","K":1,"e":-0.798},{"s":"Gauss","K":10,"e":-0.798},
      {"s":"Super-Gauss","K":1,"e":-1.683},{"s":"Super-Gauss","K":10,"e":-1.683},
      {"s":"OMP","K":1,"e":-1.337},{"s":"OMP","K":2,"e":-2.375},{"s":"OMP","K":3,"e":-2.225},{"s":"OMP","K":4,"e":-2.158},{"s":"OMP","K":5,"e":-2.117},{"s":"OMP","K":6,"e":-2.09},{"s":"OMP","K":7,"e":-2.066},{"s":"OMP","K":8,"e":-2.053},{"s":"OMP","K":9,"e":-2.039},{"s":"OMP","K":10,"e":-2.032}
    ]},
    "layer": [
      {"encoding": {
        "x": {"field": "K", "type": "quantitative", "scale": {"domain": [1, 10], "nice": false, "zero": false},
              "axis": {"values": [1, 2, 3, 4, 5, 6, 7, 8, 9, 10], "labelExpr": "toString(datum.value)", "title": "K", "labelFontSize": 13.7, "labelPadding": 12.2, "titlePadding": 9}},
        "y": {"field": "e", "type": "quantitative", "scale": {"domain": [-2.5, -0.5], "nice": false, "zero": false},
              "axis": {"values": [-2.5, -2, -1.5, -1, -0.5], "labelExpr": "toString(datum.value)", "title": "log10 error", "labelFontSize": 13.7, "labelPadding": 20.3, "minExtent": 39, "maxExtent": 39, "titlePadding": 0}}
       },
       "layer": [
        {"transform": [{"filter": "datum.s === 'Gauss'"}], "mark": {"type": "line", "strokeWidth": 2, "color": "#8dbb7a"}},
        {"transform": [{"filter": "datum.s === 'Super-Gauss'"}], "mark": {"type": "line", "strokeWidth": 1.4, "color": "#f0aa1e"}},
        {"transform": [{"filter": "datum.s === 'OMP'"}], "mark": {"type": "line", "strokeWidth": 1.4, "color": "#0000ff"}}
       ]},
      {"transform": [{"filter": "datum.s === 'Gauss'"}], "mark": {"type": "line", "opacity": 0},
       "encoding": {
         "x": {"field": "K", "type": "quantitative", "axis": {"orient": "top", "labels": false, "grid": false, "title": null, "values": [1, 2, 3, 4, 5, 6, 7, 8, 9, 10]}},
         "y": {"field": "e", "type": "quantitative", "axis": {"orient": "right", "labels": false, "grid": false, "title": null, "values": [-2.5, -2, -1.5, -1, -0.5]}}
       }}
    ],
    "resolve": {"axis": {"x": "independent", "y": "independent"}}
  }
  ]
}
]
}
